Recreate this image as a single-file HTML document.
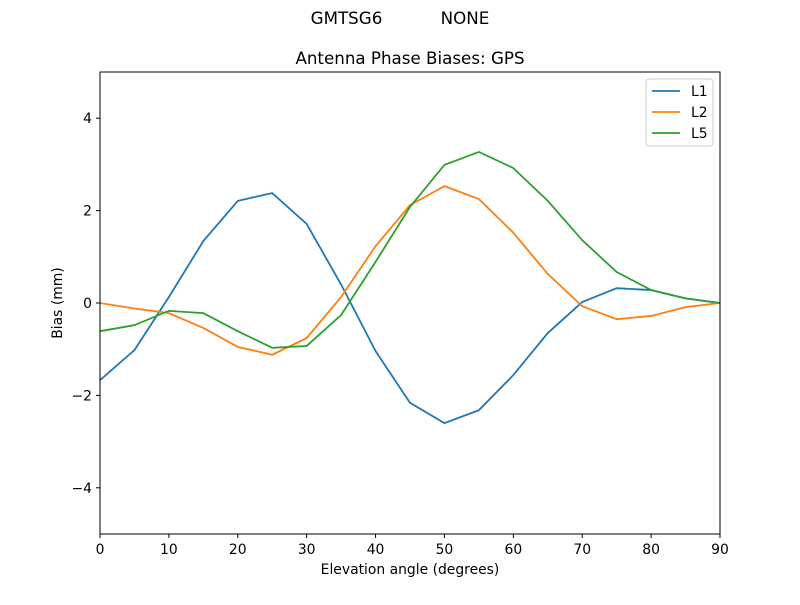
<!DOCTYPE html>
<html><head><meta charset="utf-8"><style>
body{margin:0;background:#fff;}
svg{font-family:"DejaVu Sans","Liberation Sans",sans-serif;}
</style></head><body>
<svg id="chart" width="800" height="600" xmlns="http://www.w3.org/2000/svg">
<rect width="800" height="600" fill="#fff"/>
<text x="400" y="24" text-anchor="middle" font-size="16.7" xml:space="preserve">GMTSG6           NONE</text>
<text x="410" y="64" text-anchor="middle" font-size="16.7">Antenna Phase Biases: GPS</text>
<g id="ticks"></g>
<g id="lines"></g>
<rect x="100" y="72" width="620" height="462" fill="none" stroke="#000" stroke-width="1"/>
<text x="410" y="574" text-anchor="middle" font-size="13.9">Elevation angle (degrees)</text>
<text transform="translate(62,303) rotate(-90)" text-anchor="middle" font-size="13.9">Bias (mm)</text>
<g>
<rect x="646" y="79" width="67" height="67" rx="3" fill="#fff" stroke="#ccc"/>
<g id="legend-items"></g>
</g>
</svg>
<script>
const elev=[0,5,10,15,20,25,30,35,40,45,50,55,60,65,70,75,80,85,90];
const l1=[-1.67,-1.02,0.13,1.34,2.21,2.38,1.71,0.4,-1.04,-2.16,-2.6,-2.32,-1.56,-0.65,0.02,0.32,0.28,0.1,0];
const l2=[0,-0.12,-0.22,-0.54,-0.95,-1.12,-0.76,0.13,1.23,2.12,2.53,2.25,1.52,0.63,-0.07,-0.35,-0.28,-0.09,0];
const l5=[-0.61,-0.48,-0.17,-0.22,-0.61,-0.97,-0.93,-0.26,0.89,2.08,2.99,3.27,2.92,2.21,1.36,0.67,0.28,0.1,0];
const seriesNames=["L1","L2","L5"];
const xTicks=[0,10,20,30,40,50,60,70,80,90];
const yTicks=[-4,-2,0,2,4];
const NS="http://www.w3.org/2000/svg";
const X=v=>100+v/90*620;
const Y=v=>303-v*46.2;
function mk(tag,attrs,parent){const e=document.createElementNS(NS,tag);for(const k in attrs)e.setAttribute(k,attrs[k]);parent.appendChild(e);return e;}
const tg=document.getElementById('ticks');
xTicks.forEach(t=>{
 const l=mk('line',{x1:X(t),x2:X(t),y1:534,y2:538,stroke:'#000'},tg);
 
 
 const tx=mk('text',{x:X(t),y:554,'text-anchor':'middle','font-size':13.9},tg);tx.textContent=t;
 
 
});
yTicks.forEach(t=>{
 const l=mk('line',{x1:96,x2:100,y1:Y(t),y2:Y(t),stroke:'#000'},tg);
 
 
 const tx=mk('text',{x:92,y:Y(t)+5,'text-anchor':'end','font-size':13.9},tg);tx.textContent=(t<0?'\u2212'+(-t):t);
 
 
});
const colors=['#1f77b4','#ff7f0e','#2ca02c'];
const lg=document.getElementById('lines');
[l1,l2,l5].forEach((s,i)=>{
 const p=mk('polyline',{points:s.map((v,j)=>X(elev[j])+','+Y(v)).join(' '),fill:'none',stroke:colors[i],'stroke-width':1.8},lg);
 
 
});
const li=document.getElementById('legend-items');
seriesNames.forEach((n,i)=>{
 const y=91+i*21;
 const l=mk('line',{x1:652,x2:680,y1:y,y2:y,stroke:colors[i],'stroke-width':1.8},li);
 
 
 const t=mk('text',{x:691,y:y+5,'font-size':13.9},li);t.textContent=n;
 
 
});
</script>
</body></html>
